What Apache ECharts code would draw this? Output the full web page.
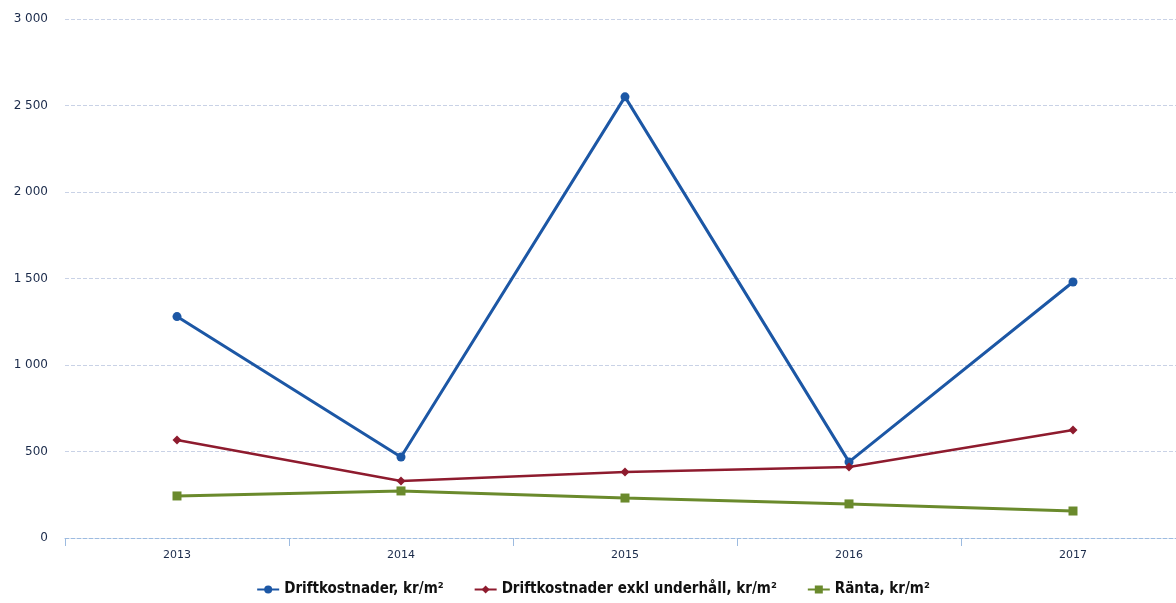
<!DOCTYPE html>
<html><head><meta charset="utf-8">
<script src="https://cdn.jsdelivr.net/npm/echarts@6/dist/echarts.min.js"></script>
<style>html,body{margin:0;padding:0;background:#fff;overflow:hidden;width:1176px;height:603px}#c{width:1186px;height:603px}</style>
</head><body><div id="c"></div>
<script>
const years = ['2013','2014','2015','2016','2017'];
const drift = [1280, 468, 2550, 440, 1480];
const driftExkl = [566, 330, 381, 410, 624];
const ranta = [243, 272, 231, 197, 156];
const yTicks = [0, 500, 1000, 1500, 2000, 2500, 3000];

const chart = echarts.init(document.getElementById('c'));
chart.setOption({
  animation: false,
  backgroundColor: '#fff',
  grid: {left: 65, top: 19, right: 1, bottom: 65},
  legend: {
    bottom: 1, left: 'center', itemGap: 30, itemWidth: 22, itemHeight: 10,
    textStyle: {fontFamily: 'Liberation Sans Narrow, DejaVu Sans Condensed, sans-serif', fontWeight: 'bold', fontSize: 15, color: '#111'},
    data: ['Driftkostnader, kr/m²', 'Driftkostnader exkl underhåll, kr/m²', 'Ränta, kr/m²']
  },
  xAxis: {
    type: 'category', data: years, boundaryGap: true,
    axisLine: {lineStyle: {color: '#9dbbe0', type: 'dashed', width: 1}},
    axisTick: {show: true, length: 8, lineStyle: {color: '#9dbbe0'}},
    axisLabel: {color: '#1a2a4a', fontSize: 11, fontFamily: 'Verdana, DejaVu Sans, sans-serif', margin: 12}
  },
  yAxis: {
    type: 'value', min: 0, max: 3000, interval: 500,
    axisLine: {show: false}, axisTick: {show: false},
    splitLine: {lineStyle: {color: '#c9d2e6', type: 'dashed'}},
    axisLabel: {color: '#1a2a4a', fontSize: 12, fontFamily: 'Verdana, DejaVu Sans, sans-serif', margin: 17,
      formatter: v => yTicks.includes(v) ? String(v).replace(/\B(?=(\d{3})+(?!\d))/g, ' ') : ''}
  },
  series: [
    {name: 'Driftkostnader, kr/m²', type: 'line', data: drift, symbol: 'circle', symbolSize: 9,
     itemStyle: {color: '#1c57a5'}, lineStyle: {width: 3, color: '#1c57a5'}},
    {name: 'Driftkostnader exkl underhåll, kr/m²', type: 'line', data: driftExkl, symbol: 'diamond', symbolSize: 9,
     itemStyle: {color: '#8e1b2e'}, lineStyle: {width: 2.5, color: '#8e1b2e'}},
    {name: 'Ränta, kr/m²', type: 'line', data: ranta, symbol: 'rect', symbolSize: 9,
     itemStyle: {color: '#6a8a2c'}, lineStyle: {width: 3, color: '#6a8a2c'}}
  ]
});
</script></body></html>
